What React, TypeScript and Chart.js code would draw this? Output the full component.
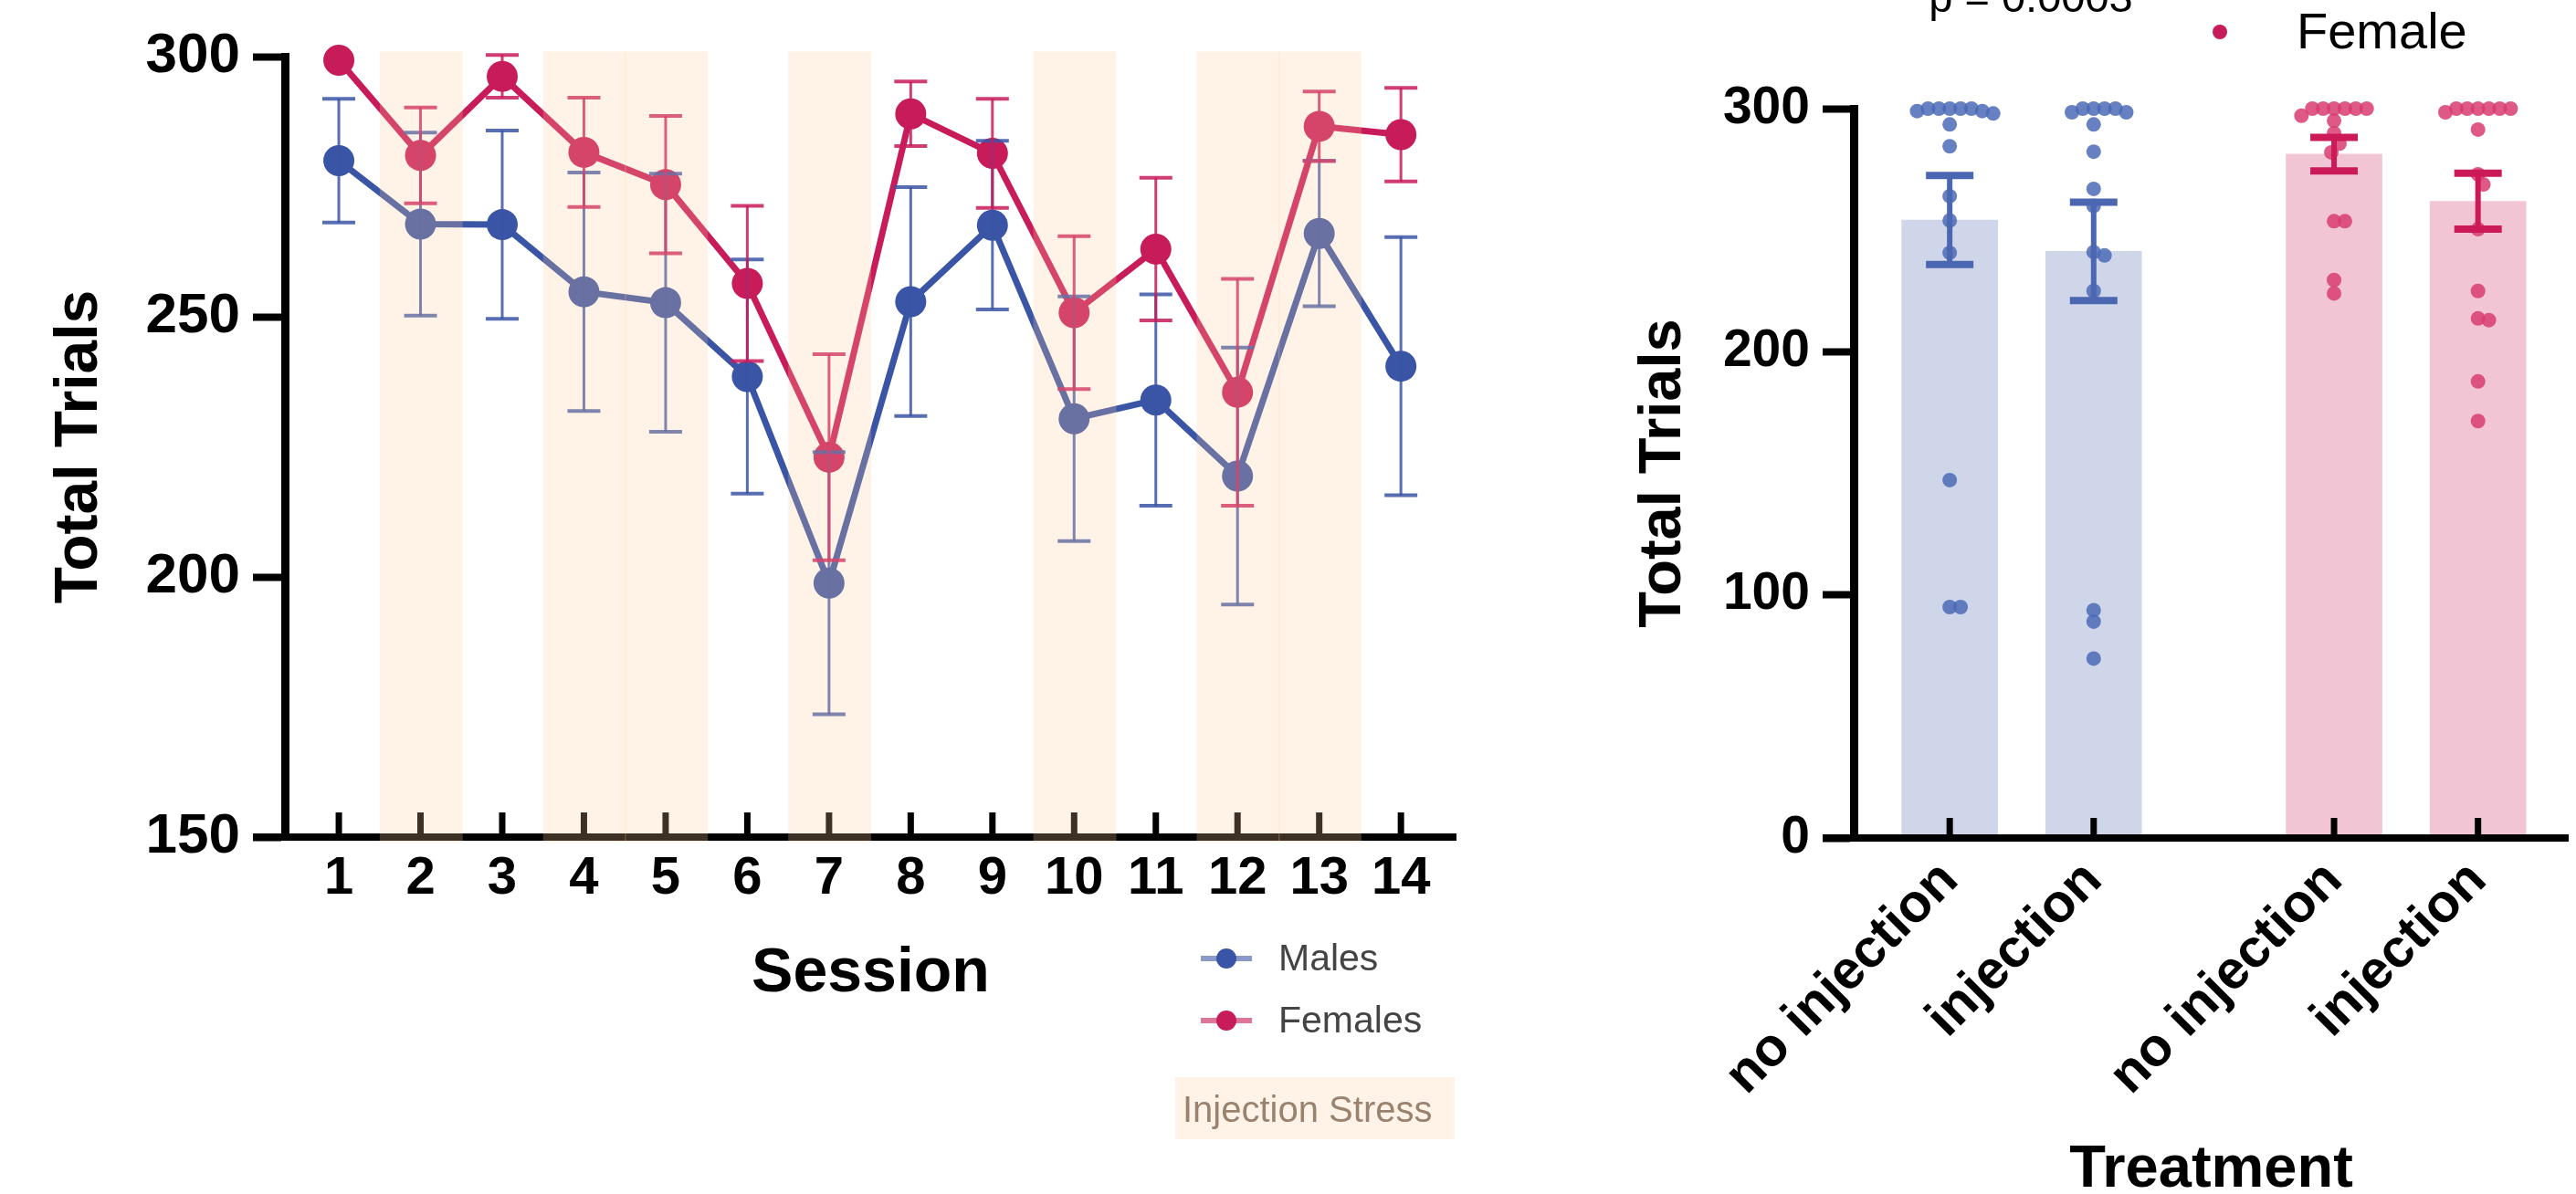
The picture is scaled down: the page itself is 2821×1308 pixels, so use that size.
import { useEffect, useRef } from "react";
import { Chart, registerables } from "chart.js";
Chart.register(...registerables);

const FONT = "'Liberation Sans', Arial, sans-serif";

// ---------- Left panel data ----------
const sessions = [1, 2, 3, 4, 5, 6, 7, 8, 9, 10, 11, 12, 13, 14];
const maleMeans = [280, 267.8, 267.7, 254.8, 252.7, 238.5, 198.8, 252.9, 267.6, 230.4, 234, 219.4, 266, 240.5];
const maleSEM = [11.9, 17.6, 18.1, 22.9, 24.8, 22.5, 25.2, 22, 16.2, 23.5, 20.3, 24.7, 14, 24.8];
const femaleMeans = [299.3, 281, 296.2, 281.6, 275.4, 256.4, 223, 289, 281.4, 250.8, 263, 235.5, 286.6, 285];
const femaleSEM = [0, 9.2, 4.1, 10.5, 13.2, 14.9, 19.8, 6.2, 10.5, 14.7, 13.7, 21.8, 6.7, 9];
const injectionSessions = [2, 4, 5, 7, 10, 12, 13];
const leftYTicks = [150, 200, 250, 300];

// ---------- Right panel data ----------
const treatmentLabels = ["no injection", "injection", "no injection", "injection"];
const groupSlots = [1, 2, 3.67, 4.67];
const groupMeans = [254.2, 241.3, 281.3, 261.9];
const groupSEM = [18.3, 20.2, 6.9, 11.5];
const maleNoInjection = [300, 300, 300, 299, 298, 299, 300, 300, 293.5, 284.5, 264, 254, 240.7, 147.2, 95, 95];
const maleInjection = [300, 300, 298.5, 298.5, 300, 300, 293.5, 282.3, 267, 260, 239.6, 241, 225, 93.7, 89, 73.8];
const femaleNoInjection = [300, 300, 300, 300, 300, 300, 297.1, 295, 289.9, 285.6, 282, 253.7, 253.7, 229.5, 224];
const femaleInjection = [300, 300, 300, 298.5, 300, 300, 300, 291.4, 273, 268.8, 250.4, 225, 213, 213.7, 187.8, 171.5];
const rightYTicks = [0, 100, 200, 300];

const MALE = "#3A55A5";
const FEMALE = "#C81B5A";
const BAND = "rgba(255,205,160,0.24)";
const BAR_BLUE = "#CFD6E9";
const BAR_PINK = "#F2C5D4";
const DOT_BLUE = "rgba(76,106,182,0.85)";
const DOT_PINK = "rgba(216,60,112,0.85)";
const ERR_BLUE = "#4B67B1";
const ERR_PINK = "#CC1A59";

function swarm(values: number[], center: number) {
  const PX_X = 159, PX_Y = 2.663, D = 12, STEP = 3;
  const placed: { px: number; py: number }[] = [];
  const out: { x: number; y: number }[] = [];
  const order = values.map((_, i) => i).sort((a, b) => values[b] - values[a]);
  for (const i of order) {
    const py = values[i] * PX_Y;
    let chosen = 0;
    for (let k = 0; k < 200; k++) {
      const cand = k === 0 ? 0 : (k % 2 === 1 ? 1 : -1) * Math.ceil(k / 2) * STEP;
      const ok = placed.every((p) => Math.hypot(p.px - cand, p.py - py) >= D - 0.01);
      if (ok) { chosen = cand; break; }
    }
    placed.push({ px: chosen, py });
    out.push({ x: center + chosen / PX_X, y: values[i] });
  }
  return out;
}

function drawErr(ctx: CanvasRenderingContext2D, px: number, top: number, bot: number, color: string, w: number, capHalf: number, capW: number) {
  ctx.strokeStyle = color;
  ctx.lineWidth = w;
  ctx.beginPath(); ctx.moveTo(px, top); ctx.lineTo(px, bot); ctx.stroke();
  ctx.lineWidth = capW;
  ctx.beginPath();
  ctx.moveTo(px - capHalf, top); ctx.lineTo(px + capHalf, top);
  ctx.moveTo(px - capHalf, bot); ctx.lineTo(px + capHalf, bot);
  ctx.stroke();
}

const leftPlugin = {
  id: "leftDecor",
  afterDatasetsDraw(chart: any) {
    const { ctx, scales } = chart;
    const x = scales.x, y = scales.y;
    ctx.save();
    const y0 = y.getPixelForValue(150);
    ctx.strokeStyle = "#000";
    ctx.lineWidth = 8;
    ctx.beginPath(); ctx.moveTo(x.left - 35, y0); ctx.lineTo(x.right, y0); ctx.stroke();
    ctx.lineWidth = 7;
    for (const s of sessions) {
      const px = x.getPixelForValue(s);
      ctx.beginPath(); ctx.moveTo(px, y0); ctx.lineTo(px, y0 - 27); ctx.stroke();
    }
    sessions.forEach((s, i) => {
      const px = x.getPixelForValue(s);
      drawErr(ctx, px, y.getPixelForValue(maleMeans[i] + maleSEM[i]), y.getPixelForValue(maleMeans[i] - maleSEM[i]), "rgba(58,85,165,0.85)", 3, 18, 4);
      if (femaleSEM[i] > 0)
        drawErr(ctx, px, y.getPixelForValue(femaleMeans[i] + femaleSEM[i]), y.getPixelForValue(femaleMeans[i] - femaleSEM[i]), "rgba(200,27,90,0.85)", 3, 18, 4);
    });
    ctx.fillStyle = BAND;
    const top = y.getPixelForValue(301), bottom = y.getPixelForValue(149);
    for (const s of injectionSessions) {
      const x1 = x.getPixelForValue(s - 0.5), x2 = x.getPixelForValue(s + 0.5) + 1.5;
      ctx.fillRect(x1, top, x2 - x1, bottom - top);
    }
    ctx.restore();
  },
  afterDraw(chart: any) {
    const { ctx } = chart;
    ctx.save();
    const items = [
      { label: "Males", color: MALE, y: 1050 },
      { label: "Females", color: FEMALE, y: 1118 },
    ];
    for (const it of items) {
      ctx.globalAlpha = 0.6;
      ctx.strokeStyle = it.color; ctx.lineWidth = 6;
      ctx.beginPath(); ctx.moveTo(1315, it.y); ctx.lineTo(1371, it.y); ctx.stroke();
      ctx.globalAlpha = 1;
      ctx.fillStyle = it.color;
      ctx.beginPath(); ctx.arc(1343, it.y, 11, 0, Math.PI * 2); ctx.fill();
      ctx.fillStyle = "#444";
      ctx.font = `41px ${FONT}`;
      ctx.textAlign = "left"; ctx.textBaseline = "alphabetic";
      ctx.fillText(it.label, 1400, it.y + 13);
    }
    ctx.fillStyle = "#fff";
    ctx.fillRect(1287, 1180, 306, 68);
    ctx.fillStyle = "#7a6c60";
    ctx.font = `40px ${FONT}`;
    ctx.fillText("Injection Stress", 1295, 1229);
    ctx.fillStyle = BAND;
    ctx.fillRect(1287, 1180, 306, 68);
    ctx.restore();
  },
};

const rightPlugin = {
  id: "rightDecor",
  afterDatasetsDraw(chart: any) {
    const { ctx, scales } = chart;
    const x = scales.x, y = scales.y;
    ctx.save();
    const y0 = y.getPixelForValue(0);
    ctx.strokeStyle = "#000";
    ctx.lineWidth = 8;
    ctx.beginPath(); ctx.moveTo(x.left - 34, y0); ctx.lineTo(x.right, y0); ctx.stroke();
    ctx.lineWidth = 7;
    for (const p of groupSlots) {
      const px = x.getPixelForValue(p);
      ctx.beginPath(); ctx.moveTo(px, y0); ctx.lineTo(px, y0 - 22); ctx.stroke();
    }
    groupSlots.forEach((p, i) => {
      const px = x.getPixelForValue(p);
      drawErr(ctx, px, y.getPixelForValue(groupMeans[i] + groupSEM[i]), y.getPixelForValue(groupMeans[i] - groupSEM[i]), i < 2 ? ERR_BLUE : ERR_PINK, 6, 26, 8);
    });
    ctx.restore();
  },
  afterDraw(chart: any) {
    const { ctx } = chart;
    ctx.save();
    ctx.fillStyle = "#000";
    ctx.font = `47px ${FONT}`;
    ctx.textAlign = "center"; ctx.textBaseline = "alphabetic";
    ctx.fillText("p = 0.0003", 584, 13);
    ctx.fillStyle = FEMALE;
    ctx.beginPath(); ctx.arc(791, 35, 8, 0, Math.PI * 2); ctx.fill();
    ctx.fillStyle = "#000";
    ctx.font = `56px ${FONT}`;
    ctx.textAlign = "left";
    ctx.fillText("Female", 875, 53);
    ctx.restore();
  },
};

export default function App() {
  const leftRef = useRef<HTMLCanvasElement>(null);
  const rightRef = useRef<HTMLCanvasElement>(null);

  useEffect(() => {
    Chart.defaults.font.family = FONT;
    const left = new Chart(leftRef.current!, {
      type: "line",
      data: {
        datasets: [
          {
            label: "Females",
            data: sessions.map((s, i) => ({ x: s, y: femaleMeans[i] })),
            borderColor: FEMALE, backgroundColor: FEMALE, borderWidth: 7,
            pointRadius: 17, pointBackgroundColor: FEMALE, pointBorderWidth: 0, clip: false as any, tension: 0,
          },
          {
            label: "Males",
            data: sessions.map((s, i) => ({ x: s, y: maleMeans[i] })),
            borderColor: MALE, backgroundColor: MALE, borderWidth: 7,
            pointRadius: 17, pointBackgroundColor: MALE, pointBorderWidth: 0, clip: false as any, tension: 0,
          },
        ],
      },
      options: {
        animation: false, responsive: false,
        layout: { padding: { left: 0, top: 62, right: 45, bottom: 0 } },
        plugins: { legend: { display: false }, tooltip: { enabled: false } },
        scales: {
          x: {
            type: "linear", min: 0.34, max: 14.68,
            afterBuildTicks: (s: any) => { s.ticks = sessions.map((v) => ({ value: v })); },
            afterFit: (s: any) => { s.height = 391; },
            grid: { display: false, drawTicks: false },
            border: { display: false },
            ticks: { font: { size: 58, weight: "bold" }, color: "#000", padding: 11, maxRotation: 0, minRotation: 0, autoSkip: false },
            title: { display: true, text: "Session", color: "#000", font: { size: 68, weight: "bold", lineHeight: 1 }, padding: { top: 0, bottom: 207 } },
          },
          y: {
            min: 150, max: 300,
            afterBuildTicks: (s: any) => { s.ticks = leftYTicks.map((v) => ({ value: v })); },
            afterFit: (s: any) => { s.width = 312; },
            grid: { drawOnChartArea: false, drawTicks: true, tickLength: 35, tickWidth: 8, tickColor: "#000", color: "#000" },
            border: { display: true, width: 9, color: "#000" },
            ticks: { font: { size: 62, weight: "bold" }, color: "#000", padding: 14 },
            title: { display: true, text: "Total Trials", color: "#000", font: { size: 66, weight: "bold", lineHeight: 1 }, padding: { top: 55, bottom: 0 } },
          },
        },
      } as any,
      plugins: [leftPlugin],
    });

    const dots = [
      ...swarm(maleNoInjection, groupSlots[0]),
      ...swarm(maleInjection, groupSlots[1]),
      ...swarm(femaleNoInjection, groupSlots[2]),
      ...swarm(femaleInjection, groupSlots[3]),
    ];
    const nMale = maleNoInjection.length + maleInjection.length;
    const dotColors = dots.map((_, i) => (i < nMale ? DOT_BLUE : DOT_PINK));

    const right = new Chart(rightRef.current!, {
      type: "bar",
      data: {
        datasets: [
          {
            type: "bar",
            data: groupSlots.map((p, i) => ({ x: p, y: groupMeans[i] })),
            backgroundColor: [BAR_BLUE, BAR_BLUE, BAR_PINK, BAR_PINK],
            barThickness: 105, borderWidth: 0, order: 2,
          } as any,
          {
            type: "scatter",
            data: dots,
            pointRadius: 8, pointBackgroundColor: dotColors, backgroundColor: dotColors,
            pointBorderWidth: 0, clip: false, order: 1,
          } as any,
        ],
      },
      options: {
        animation: false, responsive: false,
        layout: { padding: { left: 0, top: 119, right: 0, bottom: 0 } },
        plugins: { legend: { display: false }, tooltip: { enabled: false } },
        scales: {
          x: {
            type: "linear", min: 0.333, max: 5.3, offset: false,
            afterBuildTicks: (s: any) => { s.ticks = groupSlots.map((v) => ({ value: v })); },
            afterFit: (s: any) => { s.height = 390; },
            grid: { display: false, drawTicks: false },
            border: { display: false },
            ticks: {
              font: { size: 59, weight: "bold" }, color: "#000", padding: 12,
              maxRotation: 45, minRotation: 45, autoSkip: false,
              callback: (_v: any, idx: number) => treatmentLabels[idx],
            },
            title: { display: true, text: "Treatment", color: "#000", font: { size: 65, weight: "bold", lineHeight: 0.8 }, padding: { top: 0, bottom: 0 } },
          },
          y: {
            min: 0, max: 300,
            afterBuildTicks: (s: any) => { s.ticks = rightYTicks.map((v) => ({ value: v })); },
            afterFit: (s: any) => { s.width = 390; },
            grid: { drawOnChartArea: false, drawTicks: true, tickLength: 34, tickWidth: 8, tickColor: "#000", color: "#000" },
            border: { display: true, width: 9, color: "#000" },
            ticks: { font: { size: 57, weight: "bold" }, color: "#000", padding: 14 },
            title: { display: true, text: "Total Trials", color: "#000", font: { size: 65, weight: "bold", lineHeight: 1 }, padding: { top: 150, bottom: 0 } },
          },
        },
      } as any,
      plugins: [rightPlugin],
    });

    return () => { left.destroy(); right.destroy(); };
  }, []);

  return (
    <div style={{ position: "absolute", left: 0, top: 0, width: 2821, height: 1308, background: "#fff", overflow: "hidden" }}>
      <canvas ref={leftRef} width={1640} height={1308} style={{ position: "absolute", left: 0, top: 0, width: 1640, height: 1308 }} />
      <canvas ref={rightRef} width={1181} height={1308} style={{ position: "absolute", left: 1640, top: 0, width: 1181, height: 1308 }} />
    </div>
  );
}
